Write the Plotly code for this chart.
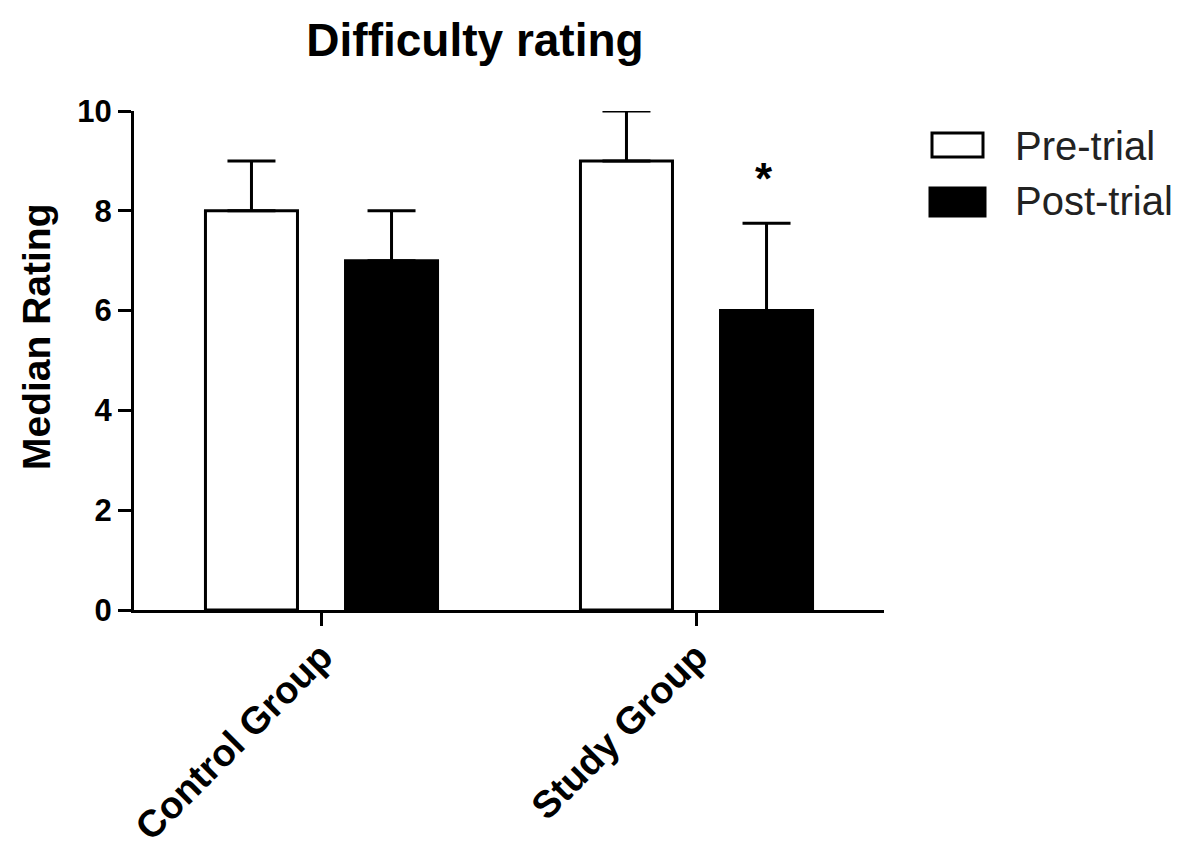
import plotly.graph_objects as go

groups = ["Control Group", "Study Group"]
pre_trial = [8, 9]
post_trial = [7, 6]
pre_err = [1, 1]
post_err = [1, 1.75]
series_names = ["Pre-trial", "Post-trial"]
y_ticks = [0, 2, 4, 6, 8, 10]

FONT = "Arial, Liberation Sans, Helvetica, sans-serif"

# plot area in page pixels: x 135..885, y 111..610 (page has 8px body offset)
PL, PW, PB, PH = 135, 750, 610, 499
def px(x):
    return (x - PL) / PW
def py(y):
    return (PB - y) / PH

fig = go.Figure()
fig.add_trace(go.Bar(
    x=groups, y=pre_trial, name=series_names[0],
    marker=dict(color="white", line=dict(color="black", width=3)),
    error_y=dict(type="data", array=pre_err, arrayminus=[0, 0], symmetric=False,
                 color="black", thickness=3, width=24),
))
fig.add_trace(go.Bar(
    x=groups, y=post_trial, name=series_names[1],
    marker=dict(color="black", line=dict(color="black", width=3)),
    error_y=dict(type="data", array=post_err, arrayminus=[0, 0], symmetric=False,
                 color="black", thickness=3, width=24),
))

fig.update_layout(
    width=1200, height=854,
    margin=dict(l=126, r=324, t=103, b=252),
    paper_bgcolor="white", plot_bgcolor="white",
    barmode="group", bargap=0.253, bargroupgap=0.343,
    showlegend=False,
    font=dict(family=FONT, color="black"),
    title=dict(text="Difficulty rating", x=467/1200, xref="container", xanchor="center",
               y=1-32/854, yref="container", yanchor="middle",
               font=dict(size=46, family=FONT, color="black", weight="bold")),
)
fig.update_xaxes(
    range=[-0.5, 1.5], showline=True, linecolor="black", linewidth=3,
    ticks="outside", ticklen=13, tickwidth=3, tickcolor="black",
    tickangle=-45, tickfont=dict(size=38, family=FONT, color="black", weight="bold"),
    ticklabelstandoff=-7,
    showgrid=False, zeroline=False, automargin=False,
)
fig.update_yaxes(
    range=[0, 10], tickvals=y_ticks, showline=True, linecolor="black", linewidth=3,
    ticks="outside", ticklen=13, tickwidth=3, tickcolor="black",
    tickfont=dict(size=31, family=FONT, color="black", weight="bold"),
    showgrid=False, zeroline=False, automargin=False,
)

# y-axis title
fig.add_annotation(xref="paper", yref="paper", x=px(37), y=py(337), text="Median Rating",
                   textangle=-90, showarrow=False, xanchor="center", yanchor="middle",
                   font=dict(size=39, family=FONT, color="black", weight="bold"))

# significance marker above the Study Group post-trial bar
fig.add_annotation(x=1 + 0.18, y=post_trial[1] + post_err[1] + 0.9, xref="x", yref="y",
                   text="*", showarrow=False,
                   font=dict(size=44, family=FONT, color="black", weight="bold"))

# custom legend (large boxes)
legend_items = [
    ("white", series_names[0], 933, 984, 133, 157, 146),
    ("black", series_names[1], 931, 986, 188, 216, 201),
]
for fill, label, x0, x1, y0, y1, yc in legend_items:
    fig.add_shape(type="rect", xref="paper", yref="paper",
                  x0=px(x0), x1=px(x1), y0=py(y1), y1=py(y0),
                  fillcolor=fill, line=dict(color="black", width=3))
    fig.add_annotation(xref="paper", yref="paper", x=px(1014), y=py(yc),
                       xanchor="left", yanchor="middle", text=label, showarrow=False,
                       font=dict(size=40, family=FONT, color="#222222"))

fig.write_html("out.html")
